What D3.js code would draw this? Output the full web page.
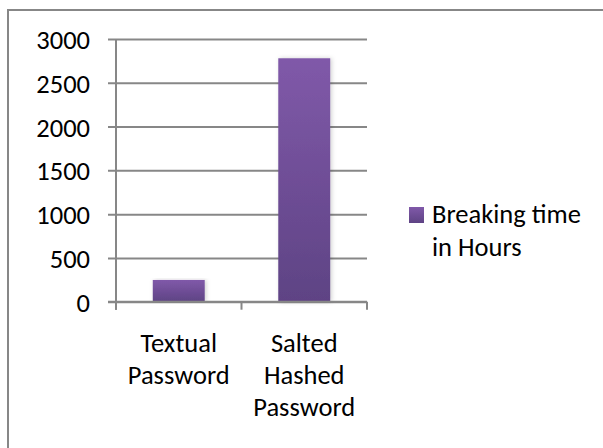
<!DOCTYPE html>
<html>
<head>
<meta charset="utf-8">
<script src="https://cdn.jsdelivr.net/npm/d3@7"></script>
<style>
  html, body { margin: 0; padding: 0; background: #fff; }
  svg { display: block; }
  text { font-family: Carlito, Lato, sans-serif; fill: #000; }
</style>
</head>
<body>
<svg id="chart" width="603" height="448"></svg>
<script>
// Breaking time by password storage scheme
const categories = [["Textual", "Password"], ["Salted", "Hashed", "Password"]];
const hours = [248, 2780];
const yTicks = [0, 500, 1000, 1500, 2000, 2500, 3000];
const seriesName = ["Breaking time", "in Hours"];

const svg = d3.select("#chart");
const W = 603, H = 448;
const plot = { left: 116, right: 367, top: 39, bottom: 301.7 };
const gridColor = "#878787";
const fontSize = 26.5;

// outer chart-area frame
svg.append("rect")
  .attr("x", 8).attr("y", 10)
  .attr("width", W + 20).attr("height", H + 20)
  .attr("fill", "#fff").attr("stroke", gridColor).attr("stroke-width", 2);

const defs = svg.append("defs");
const grad = defs.append("linearGradient")
  .attr("id", "barFill").attr("x1", 0).attr("y1", 0).attr("x2", 0).attr("y2", 1);
grad.append("stop").attr("offset", "0%").attr("stop-color", "#8059a9");
grad.append("stop").attr("offset", "100%").attr("stop-color", "#5e4384");

const shadow = defs.append("filter").attr("id", "barShadow")
  .attr("x", "-20%").attr("y", "-5%").attr("width", "140%").attr("height", "110%");
shadow.append("feDropShadow")
  .attr("dx", 1.5).attr("dy", 0).attr("stdDeviation", 2)
  .attr("flood-color", "#000").attr("flood-opacity", 0.18);

const y = d3.scaleLinear().domain([0, 3000]).range([plot.bottom, plot.top]);
const x = d3.scaleBand()
  .domain(d3.range(categories.length))
  .range([plot.left, plot.right])
  .paddingInner(0.586).paddingOuter(0.293);

// value axis with gridlines
const yAxis = d3.axisLeft(y)
  .tickValues(yTicks)
  .tickSize(-(plot.right - plot.left))
  .tickPadding(26)
  .tickFormat(d3.format("d"));

const gy = svg.append("g")
  .attr("transform", `translate(${plot.left},0)`)
  .call(yAxis);
gy.select(".domain").remove();
gy.selectAll(".tick line")
  .attr("x1", -8)
  .attr("stroke", gridColor).attr("stroke-width", 2);
gy.selectAll(".tick text")
  .attr("font-size", fontSize)
  .attr("dy", "0.36em")
  .style("font-family", "Carlito, Lato, sans-serif");

// vertical value-axis line
svg.append("line")
  .attr("x1", plot.left).attr("x2", plot.left)
  .attr("y1", plot.top).attr("y2", plot.bottom + 8)
  .attr("stroke", gridColor).attr("stroke-width", 2);

// bars
svg.append("g").selectAll("rect")
  .data(hours)
  .join("rect")
  .attr("x", (d, i) => x(i))
  .attr("width", x.bandwidth())
  .attr("y", d => y(d))
  .attr("height", d => y(0) - y(d))
  .attr("fill", "url(#barFill)")
  .attr("filter", "url(#barShadow)");

// category axis
const bounds = d3.range(categories.length + 1)
  .map(i => plot.left + i * x.step());
svg.append("line")
  .attr("x1", plot.left - 8).attr("x2", plot.right)
  .attr("y1", plot.bottom).attr("y2", plot.bottom)
  .attr("stroke", gridColor).attr("stroke-width", 2);
svg.append("g").selectAll("line")
  .data(bounds)
  .join("line")
  .attr("x1", d => d).attr("x2", d => d)
  .attr("y1", plot.bottom).attr("y2", plot.bottom + 8)
  .attr("stroke", gridColor).attr("stroke-width", 2);

const labels = svg.append("g").selectAll("text")
  .data(categories)
  .join("text")
  .attr("text-anchor", "middle")
  .attr("font-size", fontSize)
  .attr("x", (d, i) => x(i) + x.bandwidth() / 2)
  .attr("y", 352);
labels.selectAll("tspan")
  .data(d => d)
  .join("tspan")
  .attr("x", function () { return d3.select(this.parentNode).attr("x"); })
  .attr("dy", (d, i) => i === 0 ? 0 : 32.2)
  .text(d => d);

// legend
const legend = svg.append("g");
legend.append("rect")
  .attr("x", 409).attr("y", 207).attr("width", 15).attr("height", 16)
  .attr("fill", "url(#barFill)");
legend.append("text")
  .attr("x", 432).attr("y", 223)
  .attr("font-size", fontSize)
  .selectAll("tspan")
  .data(seriesName)
  .join("tspan")
  .attr("x", 432)
  .attr("dy", (d, i) => i === 0 ? 0 : 33)
  .text(d => d);
</script>
</body>
</html>
